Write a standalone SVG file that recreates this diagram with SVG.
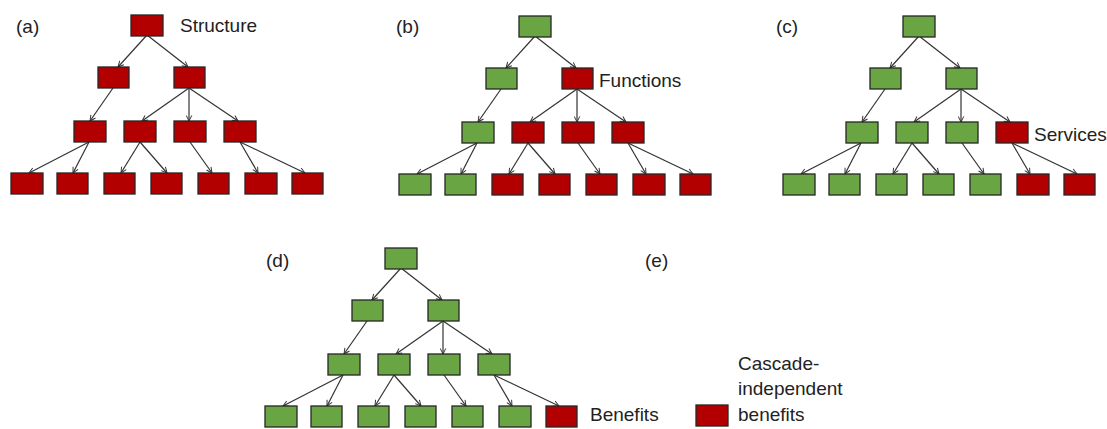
<svg xmlns="http://www.w3.org/2000/svg" width="1107" height="429" viewBox="0 0 1107 429">
<style>
.n rect{stroke:#262626;stroke-width:1.3}
.r{fill:#B20000}
.g{fill:#6AA544}
.e line{stroke:#333;stroke-width:1.2;marker-end:url(#ah)}
text{font-family:"Liberation Sans",Arial,sans-serif;font-size:19px;fill:#222}
</style>
<defs>
<marker id="ah" viewBox="0 0 10 10" refX="9" refY="5" markerWidth="7" markerHeight="7" orient="auto" markerUnits="userSpaceOnUse">
<path d="M1,1 L9,5 L1,9" fill="none" stroke="#333" stroke-width="1.4"/>
</marker>
<g id="edges" class="e">
<line x1="147" y1="35" x2="118" y2="67"/>
<line x1="147" y1="35" x2="188" y2="67"/>
<line x1="113" y1="88" x2="90" y2="121"/>
<line x1="189" y1="88" x2="142" y2="121"/>
<line x1="189" y1="88" x2="189" y2="121"/>
<line x1="189" y1="88" x2="238" y2="121"/>
<line x1="89" y1="142" x2="29" y2="173"/>
<line x1="89" y1="142" x2="73" y2="173"/>
<line x1="140" y1="142" x2="121" y2="173"/>
<line x1="140" y1="142" x2="167" y2="173"/>
<line x1="190" y1="142" x2="212" y2="173"/>
<line x1="240" y1="142" x2="258" y2="173"/>
<line x1="240" y1="142" x2="305" y2="173"/>
</g>
</defs>

<g id="connectors">
<use href="#edges"/>
<use href="#edges" transform="translate(388,1)"/>
<use href="#edges" transform="translate(772,1)"/>
<use href="#edges" transform="translate(254,233)"/>
</g>

<!-- Panel a -->
<g id="panel-a" class="n">
<g id="a1"><rect class="r" x="131" y="15" width="32" height="21"/></g>
<g id="a2"><rect class="r" x="98" y="67" width="31" height="21"/></g>
<g id="a3"><rect class="r" x="174" y="67" width="31" height="21"/></g>
<g id="a4"><rect class="r" x="74" y="121" width="32" height="21"/></g>
<g id="a5"><rect class="r" x="124" y="121" width="32" height="21"/></g>
<g id="a6"><rect class="r" x="174" y="121" width="32" height="21"/></g>
<g id="a7"><rect class="r" x="224" y="121" width="32" height="21"/></g>
<g id="a8"><rect class="r" x="11" y="173" width="32" height="21"/></g>
<g id="a9"><rect class="r" x="57" y="173" width="31" height="21"/></g>
<g id="a10"><rect class="r" x="104" y="173" width="31" height="21"/></g>
<g id="a11"><rect class="r" x="151" y="173" width="31" height="21"/></g>
<g id="a12"><rect class="r" x="198" y="173" width="31" height="21"/></g>
<g id="a13"><rect class="r" x="245" y="173" width="32" height="21"/></g>
<g id="a14"><rect class="r" x="292" y="173" width="31" height="21"/></g>
</g>

<!-- Panel b -->
<g id="panel-b" class="n" transform="translate(388,1)">
<g id="b1"><rect class="g" x="131" y="15" width="32" height="21"/></g>
<g id="b2"><rect class="g" x="98" y="67" width="31" height="21"/></g>
<g id="b3"><rect class="r" x="174" y="67" width="31" height="21"/></g>
<g id="b4"><rect class="g" x="74" y="121" width="32" height="21"/></g>
<g id="b5"><rect class="r" x="124" y="121" width="32" height="21"/></g>
<g id="b6"><rect class="r" x="174" y="121" width="32" height="21"/></g>
<g id="b7"><rect class="r" x="224" y="121" width="32" height="21"/></g>
<g id="b8"><rect class="g" x="11" y="173" width="32" height="21"/></g>
<g id="b9"><rect class="g" x="57" y="173" width="31" height="21"/></g>
<g id="b10"><rect class="r" x="104" y="173" width="31" height="21"/></g>
<g id="b11"><rect class="r" x="151" y="173" width="31" height="21"/></g>
<g id="b12"><rect class="r" x="198" y="173" width="31" height="21"/></g>
<g id="b13"><rect class="r" x="245" y="173" width="32" height="21"/></g>
<g id="b14"><rect class="r" x="292" y="173" width="31" height="21"/></g>
</g>

<!-- Panel c -->
<g id="panel-c" class="n" transform="translate(772,1)">
<g id="c1"><rect class="g" x="131" y="15" width="32" height="21"/></g>
<g id="c2"><rect class="g" x="98" y="67" width="31" height="21"/></g>
<g id="c3"><rect class="g" x="174" y="67" width="31" height="21"/></g>
<g id="c4"><rect class="g" x="74" y="121" width="32" height="21"/></g>
<g id="c5"><rect class="g" x="124" y="121" width="32" height="21"/></g>
<g id="c6"><rect class="g" x="174" y="121" width="32" height="21"/></g>
<g id="c7"><rect class="r" x="224" y="121" width="32" height="21"/></g>
<g id="c8"><rect class="g" x="11" y="173" width="32" height="21"/></g>
<g id="c9"><rect class="g" x="57" y="173" width="31" height="21"/></g>
<g id="c10"><rect class="g" x="104" y="173" width="31" height="21"/></g>
<g id="c11"><rect class="g" x="151" y="173" width="31" height="21"/></g>
<g id="c12"><rect class="g" x="198" y="173" width="31" height="21"/></g>
<g id="c13"><rect class="r" x="245" y="173" width="32" height="21"/></g>
<g id="c14"><rect class="r" x="292" y="173" width="31" height="21"/></g>
</g>

<!-- Panel d -->
<g id="panel-d" class="n" transform="translate(254,233)">
<g id="d1"><rect class="g" x="131" y="15" width="32" height="21"/></g>
<g id="d2"><rect class="g" x="98" y="67" width="31" height="21"/></g>
<g id="d3"><rect class="g" x="174" y="67" width="31" height="21"/></g>
<g id="d4"><rect class="g" x="74" y="121" width="32" height="21"/></g>
<g id="d5"><rect class="g" x="124" y="121" width="32" height="21"/></g>
<g id="d6"><rect class="g" x="174" y="121" width="32" height="21"/></g>
<g id="d7"><rect class="g" x="224" y="121" width="32" height="21"/></g>
<g id="d8"><rect class="g" x="11" y="173" width="32" height="21"/></g>
<g id="d9"><rect class="g" x="57" y="173" width="31" height="21"/></g>
<g id="d10"><rect class="g" x="104" y="173" width="31" height="21"/></g>
<g id="d11"><rect class="g" x="151" y="173" width="31" height="21"/></g>
<g id="d12"><rect class="g" x="198" y="173" width="31" height="21"/></g>
<g id="d13"><rect class="g" x="245" y="173" width="32" height="21"/></g>
<g id="d14"><rect class="r" x="292" y="173" width="31" height="21"/></g>
</g>

<!-- Legend -->
<g id="legend" class="n">
<rect class="r" x="696" y="405" width="32" height="21"/>
<text x="738" y="370">Cascade-</text>
<text x="738" y="395">independent</text>
<text x="738" y="421">benefits</text>
</g>

<g id="labels">
<text x="16" y="33">(a)</text>
<text x="396" y="33">(b)</text>
<text x="776" y="33">(c)</text>
<text x="266" y="267">(d)</text>
<text x="645" y="267">(e)</text>
<text x="180" y="32">Structure</text>
<text x="599" y="87">Functions</text>
<text x="1034" y="141">Services</text>
<text x="590" y="421">Benefits</text>
</g>
</svg>
